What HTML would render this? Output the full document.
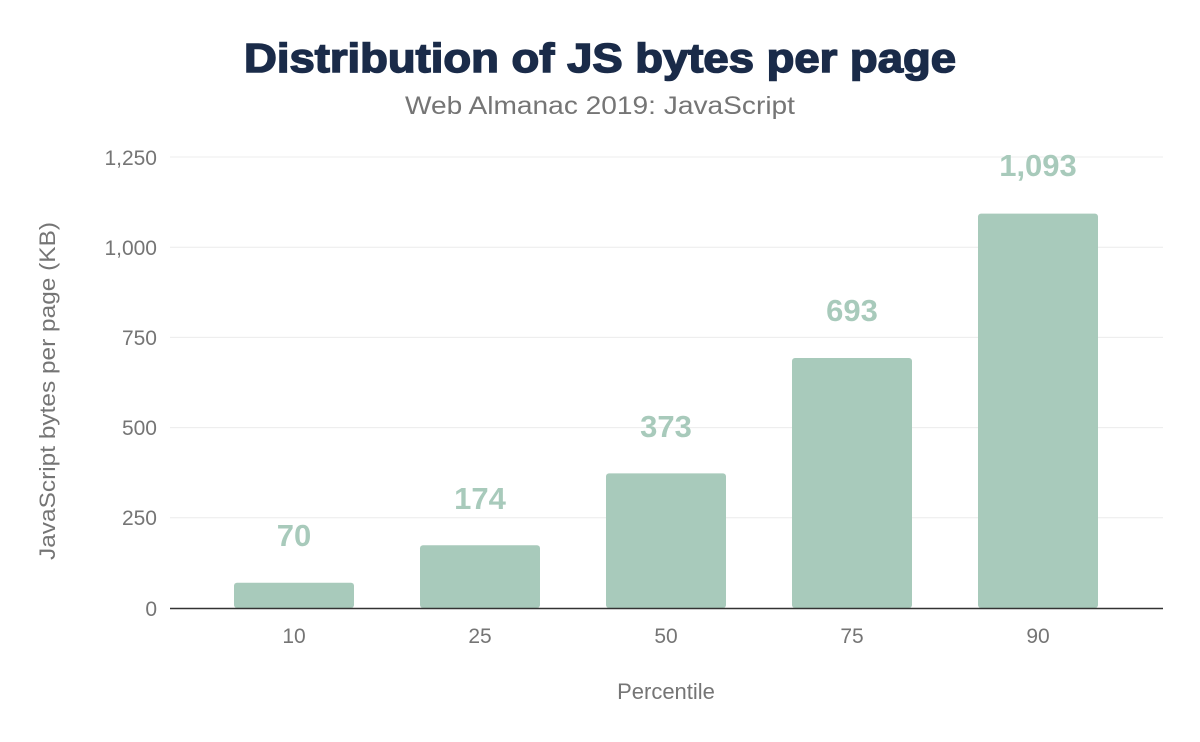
<!DOCTYPE html>
<html><head><style>
body{margin:0;background:#fff;}
svg{display:block;font-family:"Liberation Sans",Arial,sans-serif;}
</style></head><body>
<svg width="1200" height="742" viewBox="0 0 1200 742">
<rect width="1200" height="742" fill="#fff"/>
<text x="600" y="72" text-anchor="middle" font-size="41" font-weight="900" fill="#1a2b49" stroke="#1a2b49" stroke-width="1.5" textLength="712" lengthAdjust="spacingAndGlyphs">Distribution of JS bytes per page</text>
<text x="600" y="114" text-anchor="middle" font-size="25" fill="#757575" textLength="390" lengthAdjust="spacingAndGlyphs">Web Almanac 2019: JavaScript</text>
<g stroke="#ececec" stroke-width="1">
<line x1="170" x2="1163" y1="157" y2="157"/>
<line x1="170" x2="1163" y1="247.2" y2="247.2"/>
<line x1="170" x2="1163" y1="337.4" y2="337.4"/>
<line x1="170" x2="1163" y1="427.6" y2="427.6"/>
<line x1="170" x2="1163" y1="517.8" y2="517.8"/>
</g>
<g font-size="21" fill="#757575" text-anchor="end">
<text x="157" y="165">1,250</text>
<text x="157" y="255">1,000</text>
<text x="157" y="345">750</text>
<text x="157" y="435">500</text>
<text x="157" y="525">250</text>
<text x="157" y="616">0</text>
</g>
<g fill="#a8cabb">
<rect x="234" y="582.7" width="120" height="25.3" rx="3"/>
<rect x="420" y="545.2" width="120" height="62.8" rx="3"/>
<rect x="606" y="473.4" width="120" height="134.6" rx="3"/>
<rect x="792" y="358" width="120" height="250" rx="3"/>
<rect x="978" y="213.6" width="120" height="394.4" rx="3"/>
</g>
<line x1="170" x2="1163" y1="608.5" y2="608.5" stroke="#333" stroke-width="1.5"/>
<g font-size="31" font-weight="bold" fill="#a8cabb" text-anchor="middle">
<text x="294" y="546">70</text>
<text x="480" y="509">174</text>
<text x="666" y="437">373</text>
<text x="852" y="321">693</text>
<text x="1038" y="176">1,093</text>
</g>
<g font-size="21" fill="#757575" text-anchor="middle">
<text x="294" y="643">10</text>
<text x="480" y="643">25</text>
<text x="666" y="643">50</text>
<text x="852" y="643">75</text>
<text x="1038" y="643">90</text>
<text x="666" y="699" font-size="22">Percentile</text>
<text transform="translate(55,391) rotate(-90)" font-size="22" textLength="338" lengthAdjust="spacingAndGlyphs">JavaScript bytes per page (KB)</text>
</g>
</svg>
</body></html>
